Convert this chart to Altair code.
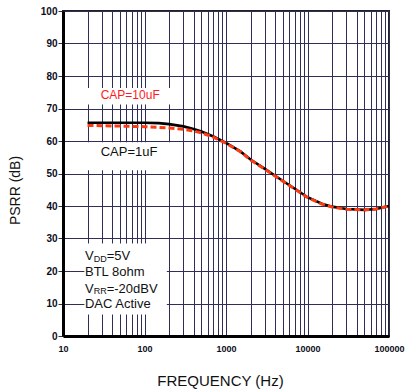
import altair as alt
import pandas as pd

# ---- data ----
freq = [20, 30, 50, 70, 100, 150, 200, 300, 400, 500, 700, 1000, 1500, 2000,
        3000, 5000, 7000, 10000, 15000, 20000, 30000, 50000, 70000, 100000]
psrr_1uf = [65.6, 65.6, 65.6, 65.6, 65.6, 65.5, 65.2, 64.5, 63.7, 62.9, 61.4, 59.4,
            56.8, 54.3, 51.4, 47.7, 45.3, 42.7, 40.7, 39.8, 39.1, 38.8, 39.1, 40.0]
psrr_10uf = [64.8, 64.7, 64.6, 64.5, 64.4, 64.2, 64.0, 63.6, 63.1, 62.5, 61.2, 59.3,
             56.7, 54.2, 51.3, 47.6, 45.2, 42.6, 40.6, 39.7, 39.0, 38.8, 39.1, 40.0]

x_grid = [10, 20, 30, 40, 50, 60, 70, 80, 90,
          100, 200, 300, 400, 500, 600, 700, 800, 900,
          1000, 2000, 3000, 4000, 5000, 6000, 7000, 8000, 9000,
          10000, 20000, 30000, 40000, 50000, 60000, 70000, 80000, 90000, 100000]
x_labels = [10, 100, 1000, 10000, 100000]
y_ticks = [0, 10, 20, 30, 40, 50, 60, 70, 80, 90, 100]

# white label boxes (data coordinates)
box_x1 = [19, 19, 18.3]
box_x2 = [215, 215, 188]
box_y1 = [71.2, 51.0, 6.6]
box_y2 = [76.3, 59.6, 28.5]

# annotations
ann_text = ["CAP=10uF", "CAP=1uF", "V", "BTL 8ohm", "V", "DAC Active"]
ann_f = [29, 29, 18.6, 18.6, 18.6, 18.6]
ann_db = [74.2, 56.6, 24.6, 19.8, 14.6, 10.0]
ann_color = ["#ff1a1a", "#111111", "#111111", "#111111", "#111111", "#111111"]
ann_size = [12, 13, 13, 13, 13, 13]

sub_text = ["DD", "RR"]
sub_f = [18.6, 18.6]
sub_db = [24.6, 14.6]

rest_text = ["=5V", "=-20dBV"]
rest_f = [18.6, 18.6]
rest_db = [24.6, 14.6]

FONT = "Liberation Sans"
GRID = "#2e2e58"

xscale = alt.Scale(type="log", domain=[10, 100000], nice=False)
yscale = alt.Scale(domain=[0, 100], nice=False)

label_expr = "indexof([" + ",".join(str(v) for v in x_labels) + "], datum.value) >= 0 ? format(datum.value, 'd') : ''"

x_axis = alt.Axis(values=x_grid, labelExpr=label_expr, grid=True, gridColor=GRID,
                  gridWidth=1, gridOpacity=1, tickSize=0, labelPadding=8,
                  labelFont=FONT, labelFontSize=9, labelFontWeight="bold",
                  labelColor="#0d0d1a", domainColor="#000000", domainWidth=3,
                  title="FREQUENCY (Hz)", titleFont=FONT, titleFontSize=15,
                  titleFontWeight="normal", titleColor="#111111",
                  titleX=157, titleY=44, titleBaseline="middle", titleAlign="center",
                  labelOverlap=False, labelFlush=False)
y_axis = alt.Axis(values=y_ticks, grid=True, gridColor=GRID, gridWidth=1, gridOpacity=1,
                  tickSize=5, tickColor="#333333", tickWidth=1, labelPadding=1,
                  labelFont=FONT, labelFontSize=10, labelFontWeight="bold",
                  labelColor="#0d0d1a", domainColor="#000000", domainWidth=3,
                  title="PSRR (dB)", titleFont=FONT, titleFontSize=14,
                  titleFontWeight="normal", titleColor="#111111",
                  titleX=-48, titleY=179, titleAngle=270, titleAlign="center",
                  titleBaseline="middle", labelOverlap=False, labelFlush=False)


def X(field):
    return alt.X(field, scale=xscale, axis=x_axis, title="FREQUENCY (Hz)")


def Y(field):
    return alt.Y(field, scale=yscale, axis=y_axis, title="PSRR (dB)")


boxes = pd.DataFrame({"x1": box_x1, "x2": box_x2, "y1": box_y1, "y2": box_y2})
rects = alt.Chart(boxes).mark_rect(color="white").encode(
    x=X("x1:Q"), x2="x2:Q", y=Y("y1:Q"), y2="y2:Q",
)

curves = pd.DataFrame({"f": freq, "a": psrr_1uf, "b": psrr_10uf})
line_1uf = alt.Chart(curves).mark_line(color="#000000", strokeWidth=2.6).encode(
    x=X("f:Q"), y=Y("a:Q"),
)
line_10uf = alt.Chart(curves).mark_line(color="#ff3a10", strokeWidth=3,
                                        strokeDash=[6, 3]).encode(
    x=X("f:Q"), y=Y("b:Q"),
)

ann = pd.DataFrame({"t": ann_text, "f": ann_f, "db": ann_db, "c": ann_color, "s": ann_size})
ann_layer = alt.Chart(ann).mark_text(align="left", baseline="middle", font=FONT).encode(
    x=X("f:Q"), y=Y("db:Q"),
    text="t:N",
    color=alt.Color("c:N", scale=None),
    size=alt.Size("s:Q", scale=None),
)

subs = pd.DataFrame({"t": sub_text, "f": sub_f, "db": sub_db})
sub_layer = alt.Chart(subs).mark_text(align="left", baseline="middle", font=FONT,
                                      fontSize=9, dx=8.7, dy=2.5, color="#111111").encode(
    x=X("f:Q"), y=Y("db:Q"), text="t:N",
)

rest = pd.DataFrame({"t": rest_text, "f": rest_f, "db": rest_db})
rest_layer = alt.Chart(rest).mark_text(align="left", baseline="middle", font=FONT,
                                       fontSize=13, dx=21.7, color="#111111").encode(
    x=X("f:Q"), y=Y("db:Q"), text="t:N",
)

chart = alt.layer(rects, line_1uf, line_10uf, ann_layer, sub_layer, rest_layer).properties(
    width=326, height=325,
    autosize=alt.AutoSizeParams(type="none"),
    padding={"left": 63, "top": 11, "right": 19, "bottom": 56},
    background="white",
).configure_view(stroke="#222222", strokeWidth=2)

chart.save("out.html", embed_options={"renderer": "svg", "actions": False})
